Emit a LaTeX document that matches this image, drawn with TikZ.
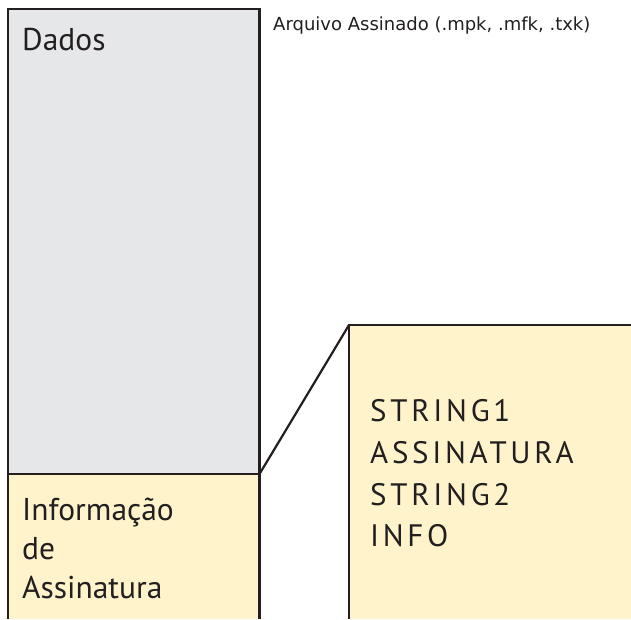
\documentclass[tikz,border=0pt]{standalone}
\usepackage{fontspec}
\setmainfont{PT Sans}
\newfontfamily\titlefont{DejaVu Sans}
\newfontfamily\spacedfont[LetterSpace=12]{PT Sans}
\definecolor{grayfill}{HTML}{E6E7E8}
\definecolor{yellowfill}{HTML}{FEF3CB}
\definecolor{ink}{HTML}{231F20}
\tikzset{
  outline/.style={draw=ink, line width=2.2pt},
  bigtext/.style={inner sep=0pt, anchor=base west, text=ink, font=\fontsize{31.5}{31.5}\selectfont},
  spacedtext/.style={inner sep=0pt, anchor=base west, text=ink, font=\spacedfont\fontsize{31}{31}\selectfont},
  titletext/.style={inner sep=0pt, anchor=base west, text=ink, font=\titlefont\fontsize{18}{18}\selectfont}
}
\begin{document}
\begin{tikzpicture}[x=1pt,y=-1pt]
\useasboundingbox (0,0) rectangle (631,619);
% Dados block
\fill[grayfill] (8,9) rectangle (259.5,474);
\fill[yellowfill] (8,474) rectangle (259.5,619);
\draw[outline] (8,619) -- (8,9) -- (259.5,9) -- (259.5,619);
\draw[outline] (8,474) -- (259.5,474);
\coordinate (joint) at (259.5,474);
% detail block
\fill[yellowfill] (349,325) rectangle (631,619);
\draw[outline] (349,619) -- (349,325) -- (631,325);
\coordinate (detailcorner) at (349,325);
\draw[outline] (joint) -- (detailcorner);
% texts
\node[titletext] (title) at (273,30.5) {Arquivo Assinado (.mpk, .mfk, .txk)};
\node[bigtext] (dados) at (22,50) {Dados};
\node[bigtext] (info1) at (22,520) {Informação};
\node[bigtext] (info2) at (22,559) {de};
\node[bigtext] (info3) at (22,598) {Assinatura};
\node[spacedtext] (s1) at (370,421.7) {STRING1};
\node[spacedtext] (s2) at (370,463) {ASSINATURA};
\node[spacedtext] (s3) at (370,505) {STRING2};
\node[spacedtext] (s4) at (370,546.7) {INFO};
\end{tikzpicture}
\end{document}
